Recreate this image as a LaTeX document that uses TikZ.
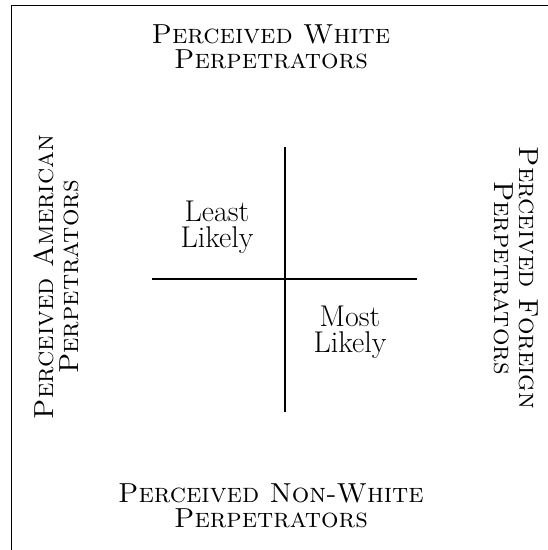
\documentclass[tikz,border=0pt]{standalone}
\usepackage{tikz}
\usetikzlibrary{positioning}

\begin{document}
\begin{tikzpicture}[x=1pt, y=-1pt,
    lbl/.style={align=center, font=\fontsize{27.5}{25}\selectfont\scshape},
    cell/.style={align=center, font=\fontsize{30}{26}\selectfont},
    axis/.style={line width=1.8pt}]
  \useasboundingbox (0,0) rectangle (548,550);
  % frame
  \draw[line width=0.8pt] (11,550) -- (11,5) -- (548,5);

  % axes
  \coordinate (west) at (152,279);
  \coordinate (east) at (417,279);
  \coordinate (north) at (285,147);
  \coordinate (south) at (285,412);
  \draw[axis] (west) -- (east);
  \draw[axis] (north) -- (south);

  % quadrant labels
  \node[cell] (least) at (217,227) {Least\\Likely};
  \node[cell] (most) at (350,332) {Most\\Likely};

  % side labels
  \node[lbl] (white) at (271,47) {Perceived White\\Perpetrators};
  \node[lbl] (nonwhite) at (271,506) {Perceived Non-White\\Perpetrators};
  \node[lbl, rotate=90] (american) at (56,277) {Perceived American\\Perpetrators};
  \node[lbl, rotate=-90] (foreign) at (516,278) {Perceived Foreign\\Perpetrators};
\end{tikzpicture}
\end{document}
